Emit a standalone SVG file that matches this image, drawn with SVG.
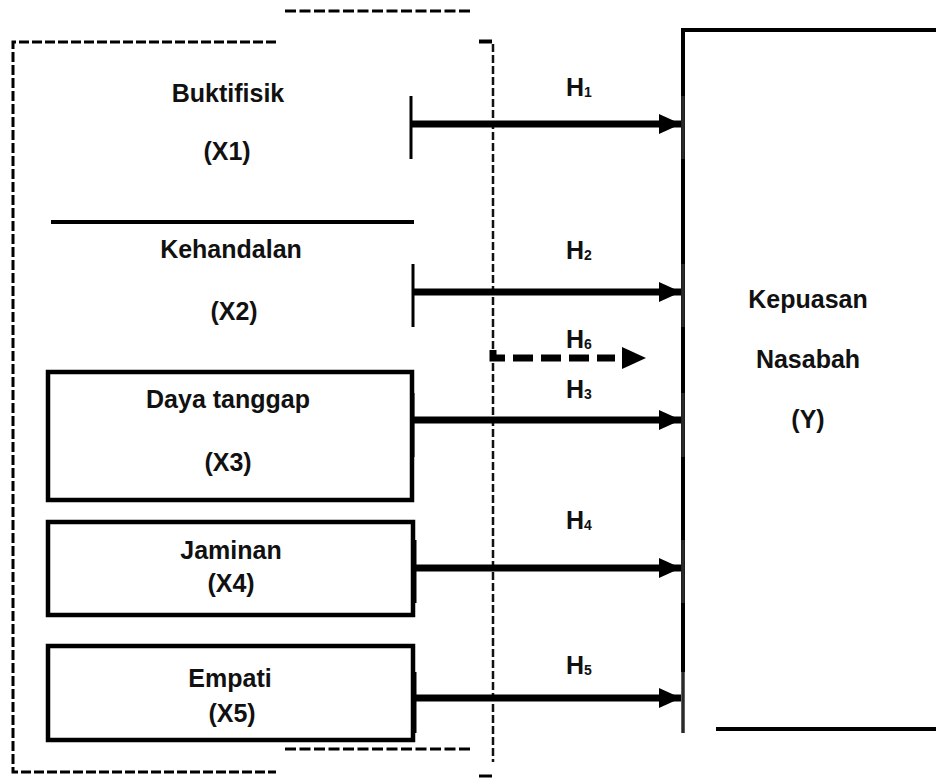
<svg xmlns="http://www.w3.org/2000/svg" width="936" height="778" viewBox="0 0 936 778">
<style>
  .t { font-family: "Liberation Sans", Arial, sans-serif; font-weight: bold; font-size: 25px; fill: #111; text-anchor: middle; }
  .h { font-family: "Liberation Sans", Arial, sans-serif; font-weight: bold; font-size: 25px; fill: #111; }
  .sub { font-size: 14px; }
  .box { fill: none; stroke: #000; stroke-width: 4.5; }
  .solid { stroke: #000; stroke-width: 4; fill: none; }
  .arrow { stroke: #000; stroke-width: 7; fill: none; marker-end: url(#ah); }
  .tickL { stroke: #000; stroke-width: 3; }
  .tickR { stroke: #2a2a2a; stroke-width: 3.5; }
  .dashA { stroke: #000; stroke-width: 3; fill: none; stroke-dasharray: 11 3.5; }
  .dashB { stroke: #000; stroke-width: 3; fill: none; stroke-dasharray: 10 3; }
  .dashC { stroke: #111; stroke-width: 2.5; fill: none; stroke-dasharray: 8 3; }
</style>
<defs>
  <marker id="ah" markerUnits="userSpaceOnUse" markerWidth="24" markerHeight="22" refX="22" refY="10" orient="auto" viewBox="0 0 24 22">
    <path d="M0,0 L22,10 L0,20 z" fill="#000"/>
  </marker>
</defs>
<rect x="0" y="0" width="936" height="778" fill="#fff"/>

<g id="frame">
  <line x1="285" y1="11" x2="470" y2="11" class="dashA"/>
  <path d="M276,42 L13,42 L13,772 L276,772" class="dashB"/>
  <line x1="285" y1="749" x2="473" y2="749" class="dashA"/>
  <line x1="493" y1="44" x2="493" y2="762" class="dashC"/>
  <line x1="479" y1="41.5" x2="492" y2="41.5" stroke="#000" stroke-width="4"/>
  <line x1="479" y1="776" x2="492" y2="776" stroke="#000" stroke-width="3"/>
</g>

<g id="X1">
  <text class="t" x="228" y="102">Buktifisik</text>
  <text class="t" x="227" y="160">(X1)</text>
</g>

<g id="X2">
  <line x1="51" y1="222" x2="414" y2="222" class="solid"/>
  <text class="t" x="231" y="258">Kehandalan</text>
  <text class="t" x="234" y="320">(X2)</text>
</g>

<g id="X3">
  <rect x="48" y="372" width="364" height="128" class="box"/>
  <text class="t" x="228" y="408">Daya tanggap</text>
  <text class="t" x="228" y="471">(X3)</text>
</g>

<g id="X4">
  <rect x="48" y="522" width="365" height="93" class="box"/>
  <text class="t" x="231" y="559">Jaminan</text>
  <text class="t" x="231" y="592">(X4)</text>
</g>

<g id="X5">
  <rect x="48" y="646" width="365" height="94" class="box"/>
  <text class="t" x="230" y="687">Empati</text>
  <text class="t" x="232" y="722">(X5)</text>
</g>

<g id="Y">
  <path d="M683,672 L683,30 L936,30" class="solid"/>
  <line x1="716" y1="729" x2="936" y2="729" class="solid"/>
  <text class="t" x="808" y="308">Kepuasan</text>
  <text class="t" x="808" y="368">Nasabah</text>
  <text class="t" x="808" y="428">(Y)</text>
</g>

<g id="connectors">
  <!-- H1 -->
  <line x1="411" y1="96" x2="411" y2="159" class="tickL"/>
  <line x1="411" y1="124" x2="681" y2="124" class="arrow"/>
  <line x1="683" y1="96" x2="683" y2="159" class="tickR"/>
  <!-- H2 -->
  <line x1="413" y1="264" x2="413" y2="327" class="tickL"/>
  <line x1="413" y1="292" x2="681" y2="292" class="arrow"/>
  <line x1="683" y1="264" x2="683" y2="327" class="tickR"/>
  <!-- H6 dashed -->
  <path d="M493,350 L493,358 L615,358" stroke="#000" stroke-width="7" fill="none" stroke-dasharray="20 8"/>
  <path d="M622,347 L646,358 L622,369 z" fill="#000"/>
  <!-- H3 -->
  <line x1="413" y1="393" x2="413" y2="457" class="tickL"/>
  <line x1="413" y1="420" x2="681" y2="420" class="arrow"/>
  <line x1="683" y1="393" x2="683" y2="457" class="tickR"/>
  <!-- H4 -->
  <line x1="415" y1="540" x2="415" y2="603" class="tickL"/>
  <line x1="415" y1="568" x2="681" y2="568" class="arrow"/>
  <line x1="683" y1="540" x2="683" y2="603" class="tickR"/>
  <!-- H5 -->
  <line x1="415" y1="672" x2="415" y2="733" class="tickL"/>
  <line x1="415" y1="698" x2="681" y2="698" class="arrow"/>
  <line x1="683" y1="672" x2="683" y2="733" class="tickR"/>

  <text class="h" x="566" y="96">H<tspan class="sub" dy="1">1</tspan></text>
  <text class="h" x="566" y="259">H<tspan class="sub" dy="1">2</tspan></text>
  <text class="h" x="566" y="348">H<tspan class="sub" dy="1">6</tspan></text>
  <text class="h" x="566" y="398">H<tspan class="sub" dy="1">3</tspan></text>
  <text class="h" x="566" y="529">H<tspan class="sub" dy="1">4</tspan></text>
  <text class="h" x="566" y="674">H<tspan class="sub" dy="1">5</tspan></text>
</g>
</svg>
